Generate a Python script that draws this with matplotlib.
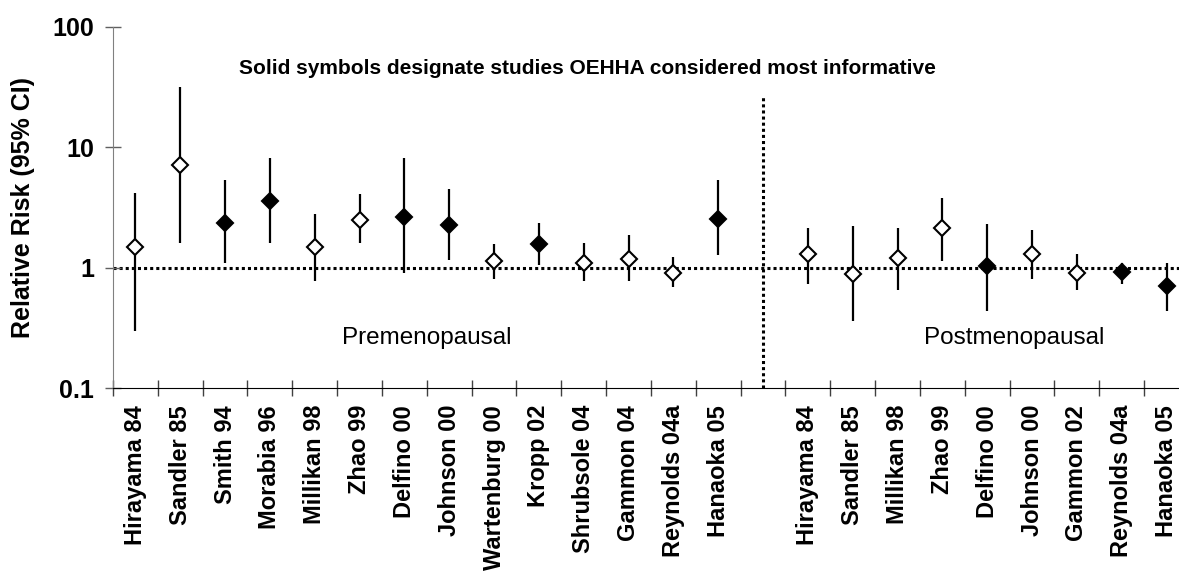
import numpy as np
import matplotlib
matplotlib.use('Agg')
import matplotlib.pyplot as plt
from matplotlib.ticker import FixedLocator, NullFormatter, FixedFormatter

plt.rcParams['font.family'] = ['Liberation Sans', 'DejaVu Sans']

# premenopausal studies
pre_labels = ['Hirayama 84', 'Sandler 85', 'Smith 94', 'Morabia 96', 'Millikan 98',
              'Zhao 99', 'Delfino 00', 'Johnson 00', 'Wartenburg 00', 'Kropp 02',
              'Shrubsole 04', 'Gammon 04', 'Reynolds 04a', 'Hanaoka 05']
pre_rr = [1.5, 7.1, 2.36, 3.6, 1.5, 2.5, 2.65, 2.26, 1.14, 1.56, 1.1, 1.19, 0.91, 2.55]
pre_lo = [0.30, 1.6, 1.09, 1.6, 0.78, 1.6, 0.9, 1.17, 0.81, 1.05, 0.775, 0.775, 0.69, 1.27]
pre_hi = [4.2, 31.8, 5.3, 8.1, 2.8, 4.1, 8.1, 4.5, 1.56, 2.36, 1.62, 1.88, 1.24, 5.3]
pre_solid = [0, 0, 1, 1, 0, 0, 1, 1, 0, 1, 0, 0, 0, 1]

# postmenopausal studies
post_labels = ['Hirayama 84', 'Sandler 85', 'Millikan 98', 'Zhao 99', 'Delfino 00',
               'Johnson 00', 'Gammon 02', 'Reynolds 04a', 'Hanaoka 05']
post_rr = [1.29, 0.88, 1.2, 2.12, 1.03, 1.29, 0.91, 0.92, 0.70]
post_lo = [0.74, 0.36, 0.66, 1.13, 0.44, 0.80, 0.66, 0.74, 0.44]
post_hi = [2.13, 2.2, 2.13, 3.77, 2.3, 2.04, 1.29, 1.1, 1.1]
post_solid = [0, 0, 0, 0, 1, 0, 0, 1, 1]

divider_top = 26

labels = pre_labels + [''] + post_labels
rr = np.array(pre_rr + [np.nan] + post_rr)
lo = np.array(pre_lo + [np.nan] + post_lo)
hi = np.array(pre_hi + [np.nan] + post_hi)
solid = np.array(pre_solid + [0] + post_solid)
x = np.arange(len(labels))
gap = len(pre_labels)

W, H = 1179, 576
fig = plt.figure(figsize=(W / 100, H / 100), dpi=100)
ax = fig.add_axes([113 / W, (H - 388.3) / H, (W - 113) / W, (388.3 - 26.7) / H])

ax.set_yscale('log')
ax.set_ylim(0.1, 100)
ax.set_xlim(-0.5, -0.5 + (W - 113) / 44.83)

# reference lines
ax.axhline(1, color='black', lw=2.2, ls=(0, (1, 1)), zorder=1)
ax.vlines(gap, 0.1, divider_top, color='black', lw=2.2, ls=(0, (1, 1)), zorder=1)

# confidence intervals
ax.vlines(x, lo, hi, color='black', lw=1.6, zorder=2)
m = solid == 1
ax.plot(x[m], rr[m], ls='none', marker='D', ms=8.5, mfc='black', mec='black', mew=1.5, zorder=3)
ax.plot(x[~m], rr[~m], ls='none', marker='D', ms=8, mfc='white', mec='black', mew=1.5, zorder=3)

ax.text(0.445, 0.885, 'Solid symbols designate studies OEHHA considered most informative',
        transform=ax.transAxes, ha='center', va='center', fontsize=15, fontweight='bold')
ax.text(np.mean(x[:gap]), 0.26, 'Premenopausal', ha='center', va='center', fontsize=17.5)
ax.text(np.mean(x[gap + 1:]) + 0.6, 0.26, 'Postmenopausal', ha='center', va='center', fontsize=17.5)

# axes styling
for s in ['top', 'right']:
    ax.spines[s].set_visible(False)
ax.spines['left'].set_color('#808080')
ax.spines['bottom'].set_color('black')

ax.yaxis.set_major_locator(FixedLocator([0.1, 1, 10, 100]))
ax.yaxis.set_major_formatter(FixedFormatter(['0.1', '1', '10', '100']))
ax.yaxis.set_minor_locator(FixedLocator([]))
ax.tick_params(axis='y', which='major', direction='inout', length=11, width=1,
               color='#606060', labelsize=18, pad=8)
for t in ax.get_yticklabels():
    t.set_fontweight('bold')

ax.xaxis.set_major_locator(FixedLocator(np.arange(len(labels) + 1) - 0.5))
ax.xaxis.set_major_formatter(NullFormatter())
ax.xaxis.set_minor_locator(FixedLocator(x))
ax.xaxis.set_minor_formatter(FixedFormatter(labels))
ax.tick_params(axis='x', which='major', direction='inout', length=11, width=1, color='#404040')
ax.tick_params(axis='x', which='minor', length=0, pad=12, labelsize=17, labelrotation=90)
for t in ax.xaxis.get_minorticklabels():
    t.set_fontweight('bold')
    t.set_va('top')

ax.set_ylabel('Relative Risk (95% CI)', fontsize=18, fontweight='bold')
ax.yaxis.set_label_coords(-0.073, 0.5)

fig.savefig('out.png', dpi=100)
